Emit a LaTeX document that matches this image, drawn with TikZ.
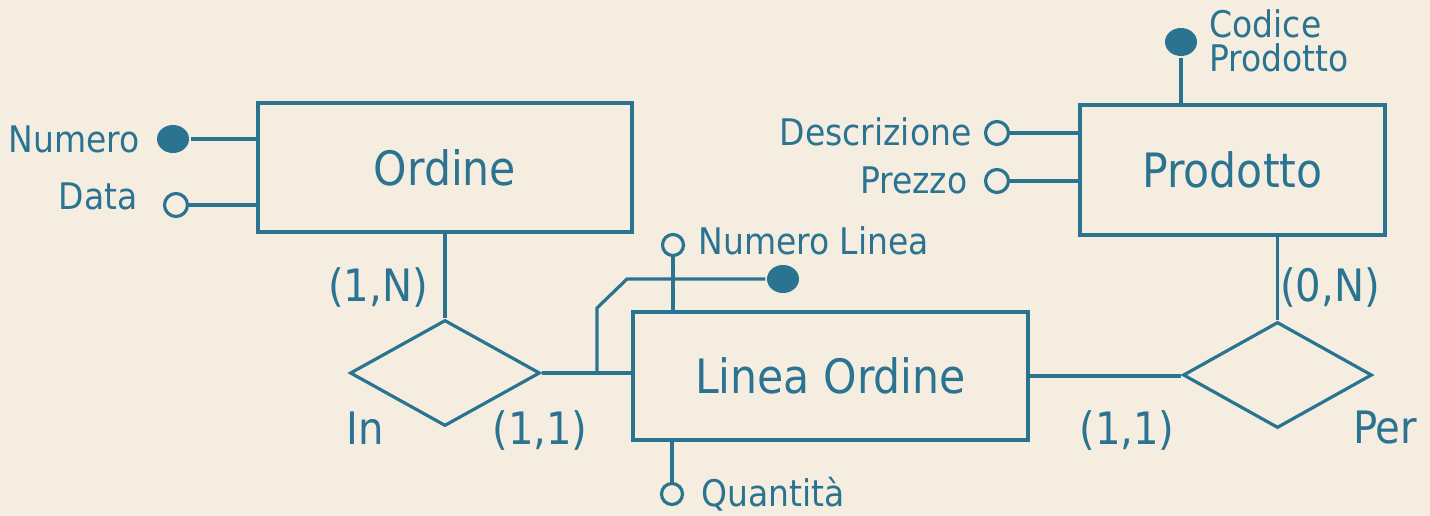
\documentclass[tikz,border=0pt]{standalone}
\usepackage{fontspec}
\setmainfont{DejaVu Sans Condensed}
\usepackage{tikz}
\usetikzlibrary{shapes.geometric}
\definecolor{ERBlue}{HTML}{2A7391}
\definecolor{Parch}{HTML}{F6EDE1}
\newcommand{\px}{0.75pt}
\newcommand{\fEnt}{\fontsize{35.5}{40}\selectfont}
\newcommand{\fAtt}{\fontsize{27.5}{26}\selectfont}
\newcommand{\fCard}{\fontsize{33.5}{38}\selectfont}
\tikzset{
    entity/.style={draw=ERBlue,rectangle,inner sep=0pt,text=ERBlue,font=\fEnt},
    relation/.style={draw=ERBlue,diamond,inner sep=0pt},
    attr/.style={draw=ERBlue,circle,fill=Parch,inner sep=0pt,minimum size=23*\px},
    keyattr/.style={fill=ERBlue,ellipse,inner sep=0pt,minimum width=32*\px,minimum height=28*\px},
    attrtxt/.style={text=ERBlue,font=\fAtt,inner sep=0pt},
    cardtxt/.style={text=ERBlue,font=\fCard,inner sep=0pt},
}
\begin{document}
\begin{tikzpicture}[x=\px,y=-\px,line width=3.2*\px,draw=ERBlue]
    \fill[Parch] (0,0) rectangle (1430,516);
    \useasboundingbox (0,0) rectangle (1430,516);
    % --- --- --- Entities
    \node[entity,minimum width=374*\px,minimum height=129*\px] (ORDINE) at (445,167.5) {Ordine};
    \node[entity,minimum width=305*\px,minimum height=130*\px] (PRODOTTO) at (1232.5,170) {Prodotto};
    \node[entity,minimum width=395*\px,minimum height=128*\px] (LINEA) at (830.5,376) {Linea Ordine};
    % --- --- --- Relationships
    \node[relation,minimum width=190*\px,minimum height=106*\px] (IN) at (445,373) {};
    \node[relation,minimum width=189*\px,minimum height=106*\px] (PER) at (1277.5,375) {};
    % --- --- --- Attributes
    \node[keyattr] (NUMERO) at (173,139) {};
    \node[attr] (DATA) at (176,205) {};
    \node[keyattr] (CODICE) at (1181,42) {};
    \node[attr] (DESCR) at (997,133) {};
    \node[attr] (PREZZO) at (997,181) {};
    \node[attr,minimum size=21*\px] (NLINEA) at (673,245) {};
    \node[keyattr] (NLKEY) at (783,279) {};
    \node[attr,minimum size=21*\px] (QUANT) at (672,494) {};
    \coordinate (KFOOT) at (597,372);
    % --- --- --- Connectors
    \draw (NUMERO) -- (NUMERO -| ORDINE.west);
    \draw (DATA) -- (DATA -| ORDINE.west);
    \draw (CODICE) -- (CODICE |- PRODOTTO.north);
    \draw (DESCR) -- (DESCR -| PRODOTTO.west);
    \draw (PREZZO) -- (PREZZO -| PRODOTTO.west);
    \draw (NLINEA) -- (NLINEA |- LINEA.north);
    \draw (QUANT) -- (QUANT |- LINEA.south);
    \draw (ORDINE.south) -- (IN.north);
    \draw (PER.north) -- (PER.north |- PRODOTTO.south);
    \draw (IN.east) -- (IN.east -| LINEA.west);
    \draw (LINEA.east) -- (LINEA.east -| PER.west);
    \draw (KFOOT) -- ++(0,-64) -- ++(30,-29) -- (NLKEY.west);
    % --- --- --- Labels
    \node[attrtxt,anchor=east] (T_NUMERO) at (141,139) {Numero};
    \node[attrtxt,anchor=east] (T_DATA) at (139,196) {Data};
    \node[attrtxt,anchor=east] (T_DESCR) at (973,132) {Descrizione};
    \node[attrtxt,anchor=east] (T_PREZZO) at (969,180) {Prezzo};
    \node[attrtxt,anchor=west] (T_NLINEA) at (697,241) {Numero Linea};
    \node[attrtxt,anchor=west] (T_QUANT) at (700,494) {Quantità};
    \node[attrtxt,anchor=west,align=left] (T_CODICE) at (1208,41) {Codice\\Prodotto};
    \node[cardtxt] (C_ORDINE) at (378,287) {(1,N)};
    \node[cardtxt] (C_LINEA_IN) at (540,430) {(1,1)};
    \node[cardtxt] (C_LINEA_PER) at (1127,430) {(1,1)};
    \node[cardtxt] (C_PRODOTTO) at (1330,287) {(0,N)};
    \node[cardtxt] (T_IN) at (365,428) {In};
    \node[cardtxt] (T_PER) at (1385,428) {Per};
\end{tikzpicture}
\end{document}
